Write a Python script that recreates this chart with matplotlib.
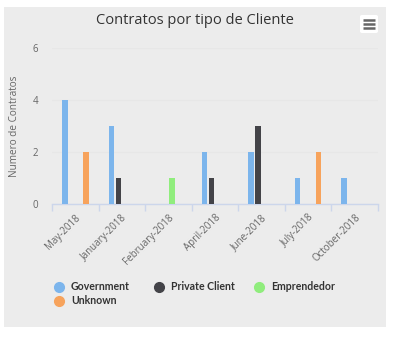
import matplotlib
matplotlib.use("Agg")
import matplotlib.pyplot as plt
from matplotlib.patches import Rectangle, FancyBboxPatch
from matplotlib.lines import Line2D
import numpy as np

categories = ["May-2018", "January-2018", "February-2018", "April-2018",
              "June-2018", "July-2018", "October-2018"]
series_names = ["Government", "Private Client", "Emprendedor", "Unknown"]
government = [4, 3, 0, 2, 2, 1, 1]
private_client = [0, 1, 0, 1, 3, 0, 0]
emprendedor = [0, 0, 1, 0, 0, 0, 0]
unknown = [2, 0, 0, 0, 0, 2, 0]
series_values = [government, private_client, emprendedor, unknown]
colors = ["#7cb5ec", "#434348", "#90ed7d", "#f7a35c"]
y_ticks = [0, 2, 4, 6]

W, H = 394, 339
fig = plt.figure(figsize=(W / 100, H / 100), dpi=100)
fig.patch.set_facecolor("white")

def fx(px):
    return px / W

def fy(py):
    return 1 - py / H

BG = "#ececec"
fig.add_artist(Rectangle((fx(4), fy(327)), fx(386) - fx(4), fy(7) - fy(327),
                         transform=fig.transFigure, facecolor=BG, edgecolor="none", zorder=0))

ax = fig.add_axes([fx(52), fy(204), fx(378) - fx(52), fy(48) - fy(204)])
ax.set_facecolor(BG)
ax.patch.set_alpha(0)

n = len(categories)
x = np.arange(n)
slot = 0.6 / len(series_values)
bw = slot * 0.8
for k, (vals, c) in enumerate(zip(series_values, colors)):
    off = -0.3 + slot / 2 + k * slot
    ax.bar(x + off, vals, width=bw, color=c, edgecolor="none", zorder=3)

ax.set_xlim(-0.5, n - 0.5)
ax.set_ylim(0, 6)
ax.set_yticks(y_ticks)
ax.set_yticklabels([str(v) for v in y_ticks], fontsize=7, color="#666666", family="Open Sans")
ax.tick_params(axis="y", length=0, pad=10)
ax.yaxis.grid(True, color="#e7e7e7", linewidth=1, zorder=0)
ax.set_axisbelow(True)

ax.set_xticks(x)
ax.set_xticklabels(categories, rotation=45, ha="right", rotation_mode="anchor",
                   fontsize=7, color="#666666", family="Open Sans")
ax.tick_params(axis="x", length=0, pad=6)
ax.set_xticks(np.arange(n + 1) - 0.5, minor=True)
ax.tick_params(axis="x", which="minor", length=5, color="#ccd6eb", width=1)

for s in ["top", "right", "left"]:
    ax.spines[s].set_visible(False)
ax.spines["bottom"].set_color("#ccd6eb")
ax.spines["bottom"].set_linewidth(1)

ax.set_ylabel("Numero de Contratos", fontsize=7.2, color="#666666", family="Open Sans", labelpad=9)

fig.text(fx(195), fy(20), "Contratos por tipo de Cliente", ha="center", va="center",
         fontsize=10.5, color="#333333", family="Open Sans")

# menu button
fig.add_artist(FancyBboxPatch((fx(360), fy(33)), fx(378) - fx(360), fy(15) - fy(33),
                              boxstyle="round,pad=0,rounding_size=0.005",
                              transform=fig.transFigure, facecolor="white", edgecolor="none"))
for yy in [20, 24, 28]:
    fig.add_artist(Line2D([fx(363), fx(375)], [fy(yy), fy(yy)], transform=fig.transFigure,
                          color="#666666", linewidth=1.8, solid_capstyle="butt"))

# legend
leg_pos = [(59, 287), (159, 287), (259, 287), (59, 301)]
for name, c, (lx, ly) in zip(series_names, colors, leg_pos):
    fig.add_artist(Line2D([fx(lx)], [fy(ly)], transform=fig.transFigure, marker="o",
                          markersize=7, color=c, linestyle="none"))
    fig.text(fx(lx + 12), fy(ly), name, ha="left", va="center", fontsize=7.6,
             fontweight="bold", color="#333333", family="Lato")

fig.savefig("out.png", dpi=100, facecolor="white")
